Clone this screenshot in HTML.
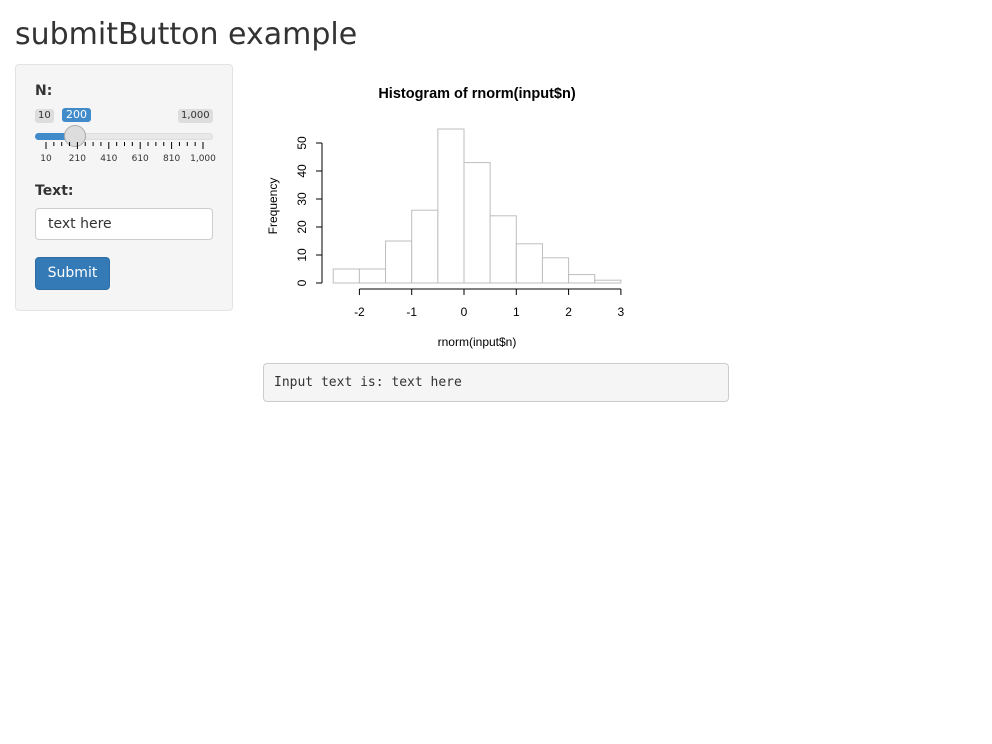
<!DOCTYPE html>
<html><head><meta charset="utf-8"><style>
body{margin:0;width:992px;height:744px;background:#fff;font-family:"DejaVu Sans","Liberation Sans",sans-serif;color:#333;position:relative;overflow:hidden}
h2{position:absolute;left:15px;top:15px;margin:0;font-size:30px;font-weight:400;line-height:40px}
.well{position:absolute;left:15px;top:64px;width:216px;height:245px;background:#f5f5f5;border:1px solid #e3e3e3;border-radius:4px}
.lbl{position:absolute;font-weight:bold;font-size:14px}
.pill{position:absolute;font-size:10px;padding:1px 3px;border-radius:3px;background:#ddd;line-height:12px}
.inp{position:absolute;left:35px;top:208px;height:32px;border:1px solid #ccc;border-radius:4px;background:#fff;font-size:14px;line-height:30px;padding-left:12px;box-sizing:border-box;width:178px}
.btn{position:absolute;left:35px;top:257px;width:75px;height:33px;background:#337ab7;border:1px solid #2e6da4;border-radius:4px;color:#fff;font-size:14px;line-height:31px;text-align:center;box-sizing:border-box}
.out{position:absolute;left:263px;top:363px;width:466px;height:39px;background:#f5f5f5;border:1px solid #ccc;border-radius:4px;box-sizing:border-box;font-family:"DejaVu Sans Mono","Liberation Mono",monospace;font-size:13px;line-height:37px;padding-left:10px}
</style></head><body>
<h2>submitButton example</h2>
<div class="well"></div>
<div class="lbl" style="left:35px;top:83px">N:</div>
<div class="pill" style="left:35px;top:109px">10</div>
<div class="pill" style="left:62px;top:108px;background:#428bca;color:#fff;font-size:11px;padding:1px 4px">200</div>
<div class="pill" style="left:178px;top:109px">1,000</div>
<div style="position:absolute;left:35px;top:133px;width:178px;height:7px;border-radius:4px;background:#e8e8e8;border:1px solid #ddd;box-sizing:border-box"></div>
<div style="position:absolute;left:35px;top:133px;width:42px;height:7px;border-radius:4px 0 0 4px;background:#428bca"></div>
<div style="position:absolute;left:64px;top:125px;width:22px;height:22px;border-radius:50%;background:#ddd;border:1px solid #aaa;box-sizing:border-box"></div>
<svg style="position:absolute;left:0;top:0" width="240" height="170" id="st"></svg>
<div class="lbl" style="left:35px;top:183px">Text:</div>
<div class="inp">text here</div>
<div class="btn">Submit</div>
<svg id="hist" style="position:absolute;left:0;top:0" width="700" height="360" font-family="Liberation Sans, sans-serif"></svg>
<div class="out">Input text is: text here</div>
<script>
const sliderLabels=["10","210","410","610","810","1,000"];
const st=document.getElementById('st');let s='';
for(let i=0;i<=20;i++){const x=46+i*(203-46)/20;const major=i%4==0;s+=`<line x1="${x}" x2="${x}" y1="142" y2="${major?149:146}" stroke="#000" stroke-width="1"/>`;}
sliderLabels.forEach((t,i)=>{const x=46+i*(203-46)/5;s+=`<text x="${x}" y="161" font-size="9" text-anchor="middle" fill="#333" font-family="DejaVu Sans,sans-serif">${t}</text>`;});
st.innerHTML=s;
const binStart=[-2.5,-2,-1.5,-1,-0.5,0,0.5,1,1.5,2,2.5];
const binWidth=0.5;
const counts=[5,5,15,26,55,43,24,14,9,3,1];
const xTicks=[-2,-1,0,1,2,3];
const yTicks=[0,10,20,30,40,50];
const X=v=>464+v*52.3, Y=v=>283-v*2.8;
const h=document.getElementById('hist');
function add(tag,attrs,name,txt){const e=document.createElementNS('http://www.w3.org/2000/svg',tag);for(const k in attrs)e.setAttribute(k,attrs[k]);


if(txt!=null)e.textContent=txt;h.appendChild(e);return e;}
binStart.forEach((b,i)=>{add('rect',{x:X(b),y:Y(counts[i]),width:X(b+binWidth)-X(b),height:Y(0)-Y(counts[i]),fill:'#fff',stroke:'#bebebe','stroke-width':1},'bar-'+i);});
add('line',{x1:X(xTicks[0]),x2:X(xTicks[xTicks.length-1]),y1:289,y2:289,stroke:'#000'},'x-axis');
xTicks.forEach(t=>{add('line',{x1:X(t),x2:X(t),y1:289,y2:295,stroke:'#000'},'x-tick');add('text',{x:X(t),y:316,'font-size':12,'text-anchor':'middle'},'x-tick-label',String(t));});
add('line',{x1:322,x2:322,y1:Y(yTicks[0]),y2:Y(yTicks[yTicks.length-1]),stroke:'#000'},'y-axis');
yTicks.forEach(t=>{add('line',{x1:316,x2:322,y1:Y(t),y2:Y(t),stroke:'#000'},'y-tick');add('text',{x:0,y:0,'font-size':12,'text-anchor':'middle',transform:`translate(306,${Y(t)}) rotate(-90)`},'y-tick-label',String(t));});
add('text',{x:477,y:98,'font-size':14.5,'font-weight':'bold','text-anchor':'middle'},'chart-title','Histogram of rnorm(input$n)');
add('text',{x:477,y:346,'font-size':12,'text-anchor':'middle'},'x-axis-title','rnorm(input$n)');
add('text',{x:0,y:0,'font-size':12,'text-anchor':'middle',transform:'translate(277,206) rotate(-90)'},'y-axis-title','Frequency');
</script>
</body></html>
